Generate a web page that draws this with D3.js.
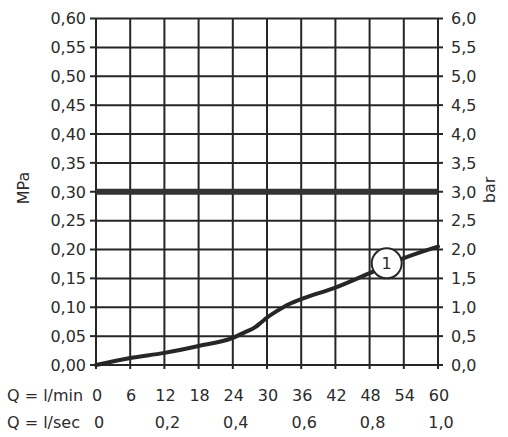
<!DOCTYPE html>
<html>
<head>
<meta charset="utf-8">
<script src="https://cdn.jsdelivr.net/npm/d3@7"></script>
<style>
  body { margin: 0; background: #fff; }
  svg { display: block; font-family: "DejaVu Sans", Lato, sans-serif; }
  .lbl { font-size: 16px; fill: #2b2b2b; }
  .grid line { stroke: #262626; stroke-width: 2; }
</style>
</head>
<body>
<svg id="chart" width="508" height="437"></svg>
<script>
// flow in l/min vs pressure drop in MPa (curve 1)
var flowLmin  = [0, 6, 12, 18, 24, 26, 28, 29, 30, 31.5, 33, 36, 42, 48, 54, 60];
var pressMPa  = [0, 0.012, 0.021, 0.033, 0.047, 0.056, 0.066, 0.074, 0.082, 0.092, 0.101, 0.114, 0.134, 0.159, 0.185, 0.205];

var limitMPa  = 0.30;
var marker    = { q: 51, p: 0.176, text: "1" };

var xTicksMin = [0, 6, 12, 18, 24, 30, 36, 42, 48, 54, 60];
var xTicksSec = [0, 12, 24, 36, 48, 60];           // positions in l/min
var secLabels = ["0", "0,2", "0,4", "0,6", "0,8", "1,0"];
var yTicksMPa = d3.range(0, 0.601, 0.05);
var yTicksBar = d3.range(0, 6.01, 0.5);

var svg = d3.select("#chart");

var x  = d3.scaleLinear().domain([0, 60]).range([96, 438]);
var y  = d3.scaleLinear().domain([0, 0.6]).range([365, 18.5]);
var yb = d3.scaleLinear().domain([0, 6]).range([365, 18.5]);

var comma = function(f) { return function(d) { return f(d).replace(".", ","); }; };

// grid
var grid = svg.append("g").attr("class", "grid");
grid.selectAll("line.h").data(yTicksMPa).enter().append("line")
  .attr("class", "h")
  .attr("x1", x(0)).attr("x2", x(60))
  .attr("y1", function(d) { return y(d); }).attr("y2", function(d) { return y(d); });
grid.selectAll("line.v").data(xTicksMin).enter().append("line")
  .attr("class", "v")
  .attr("y1", y(0)).attr("y2", y(0.6))
  .attr("x1", function(d) { return x(d); }).attr("x2", function(d) { return x(d); });

// ticks outside the frame
grid.selectAll("line.tl").data(yTicksMPa).enter().append("line")
  .attr("x1", x(0) - 6).attr("x2", x(0))
  .attr("y1", function(d) { return y(d); }).attr("y2", function(d) { return y(d); });
grid.selectAll("line.tr").data(yTicksBar).enter().append("line")
  .attr("x1", x(60)).attr("x2", x(60) + 5)
  .attr("y1", function(d) { return yb(d); }).attr("y2", function(d) { return yb(d); });
grid.selectAll("line.tb").data(xTicksMin).enter().append("line")
  .attr("y1", y(0)).attr("y2", y(0) + 4)
  .attr("x1", function(d) { return x(d); }).attr("x2", function(d) { return x(d); });

// y labels
svg.append("g").selectAll("text").data(yTicksMPa).enter().append("text")
  .attr("class", "lbl")
  .attr("x", 86).attr("y", function(d) { return y(d); })
  .attr("dy", "0.36em").attr("text-anchor", "end")
  .text(comma(d3.format(".2f")));
svg.append("g").selectAll("text").data(yTicksBar).enter().append("text")
  .attr("class", "lbl")
  .attr("x", 451).attr("y", function(d) { return yb(d); })
  .attr("dy", "0.36em")
  .text(comma(d3.format(".1f")));

svg.append("text").attr("class", "lbl")
  .attr("transform", "translate(29,188) rotate(-90)")
  .attr("text-anchor", "middle").text("MPa");
svg.append("text").attr("class", "lbl")
  .attr("transform", "translate(495,190) rotate(-90)")
  .attr("text-anchor", "middle").text("bar");

// x labels
svg.append("g").selectAll("text").data(xTicksMin).enter().append("text")
  .attr("class", "lbl")
  .attr("x", function(d) { return x(d) + 1; }).attr("y", 401)
  .attr("text-anchor", "middle").text(function(d) { return d; });
svg.append("g").selectAll("text").data(xTicksSec).enter().append("text")
  .attr("class", "lbl")
  .attr("x", function(d) { return x(d) + 3; }).attr("y", 428)
  .attr("text-anchor", "middle").text(function(d, i) { return secLabels[i]; });
svg.append("text").attr("class", "lbl").attr("x", 7).attr("y", 401).text("Q = l/min");
svg.append("text").attr("class", "lbl").attr("x", 7).attr("y", 428).text("Q = l/sec");

// max pressure line
svg.append("line")
  .attr("x1", x(0)).attr("x2", x(60))
  .attr("y1", y(limitMPa)).attr("y2", y(limitMPa))
  .attr("stroke", "#333").attr("stroke-width", 6);

// curve
var pts = flowLmin.map(function(q, i) { return [q, pressMPa[i]]; });
svg.append("path")
  .datum(pts)
  .attr("fill", "none").attr("stroke", "#262626").attr("stroke-width", 4)
  .attr("stroke-linecap", "round")
  .attr("d", d3.line().curve(d3.curveMonotoneX)
    .x(function(d) { return x(d[0]); }).y(function(d) { return y(d[1]); }));

// curve marker
svg.append("circle")
  .attr("cx", x(marker.q)).attr("cy", y(marker.p)).attr("r", 15)
  .attr("fill", "#fff").attr("stroke", "#262626").attr("stroke-width", 2);
svg.append("text").attr("class", "lbl")
  .attr("x", x(marker.q)).attr("y", y(marker.p))
  .attr("dy", "0.36em").attr("text-anchor", "middle").text(marker.text);
</script>
</body>
</html>
